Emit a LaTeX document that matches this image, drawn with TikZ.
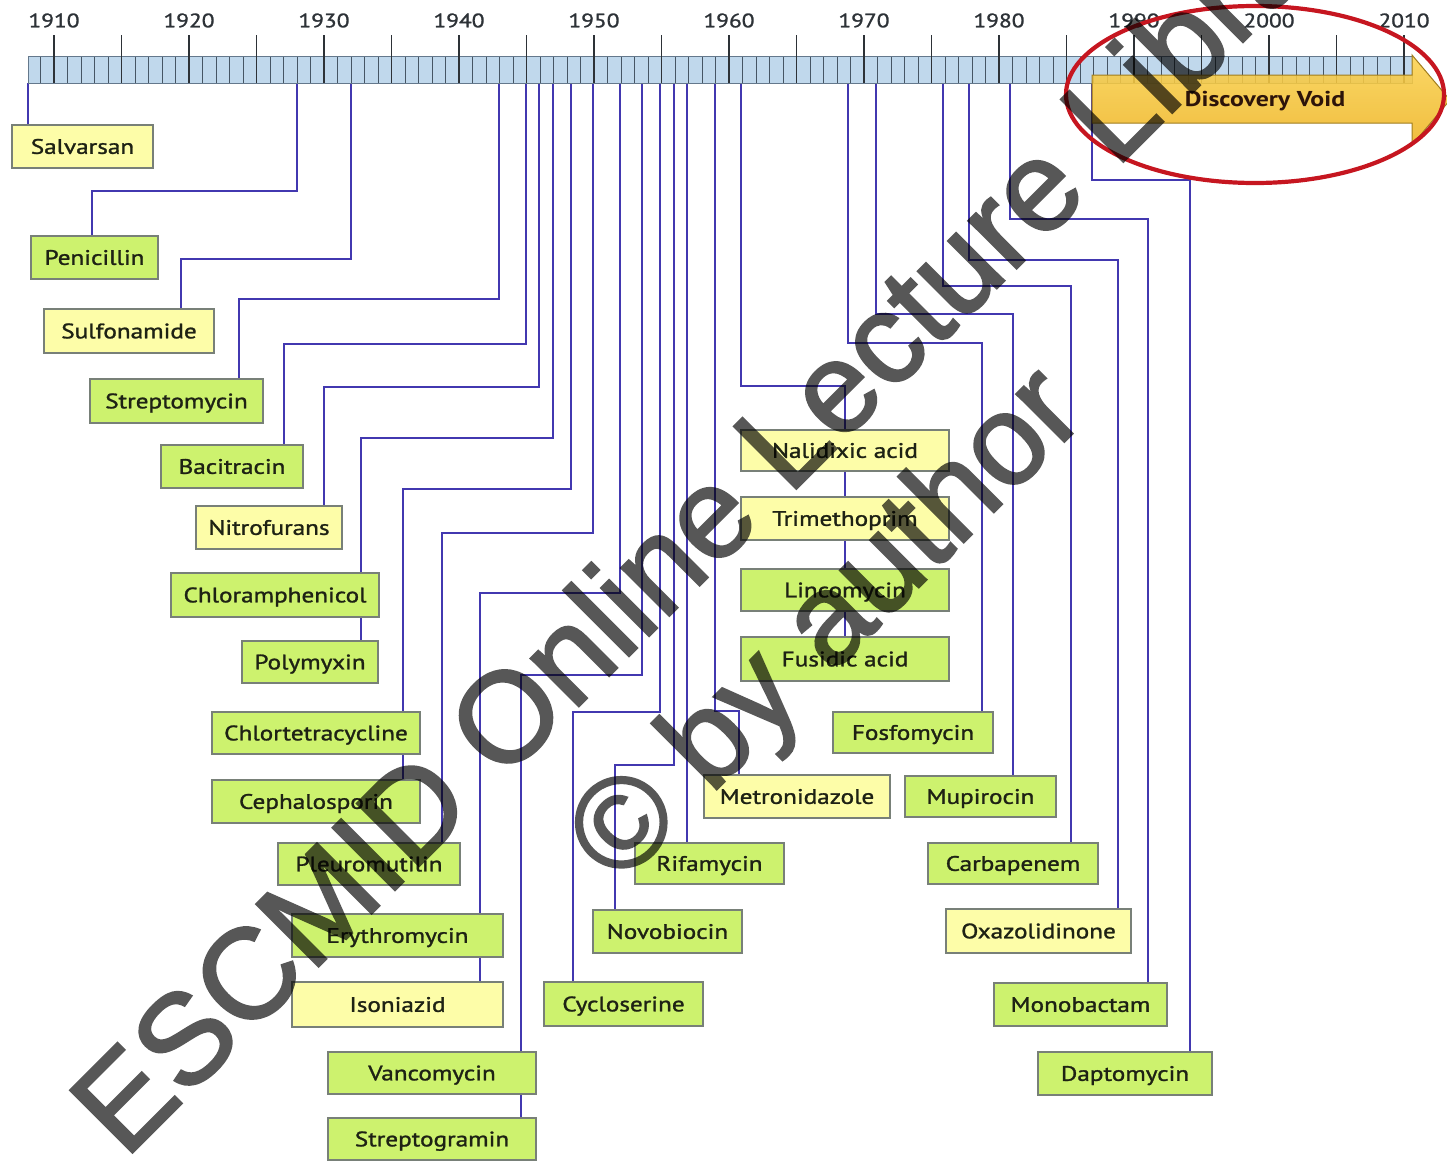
\documentclass[tikz,border=0pt]{standalone}
\usepackage{fontspec}
\setmainfont{PT Sans}
\newfontfamily\lblfont{PT Sans}[FakeBold=1.2]
\newfontfamily\wmfont{Liberation Sans}[FakeBold=1.8]
\usetikzlibrary{backgrounds}
\definecolor{boxgreen}{RGB}{205,242,110}
\definecolor{boxyellow}{RGB}{253,253,168}
\definecolor{boxedge}{RGB}{120,128,120}
\definecolor{conncol}{RGB}{66,56,176}
\definecolor{barfill}{RGB}{192,216,236}
\definecolor{baredge}{RGB}{100,120,140}
\definecolor{tickcol}{RGB}{45,50,55}
\definecolor{minorcol}{RGB}{70,85,100}
\definecolor{voidtop}{RGB}{250,210,80}
\definecolor{voidbot}{RGB}{238,180,36}
\definecolor{voidedge}{RGB}{160,125,30}
\definecolor{voidtxt}{RGB}{45,20,10}
\definecolor{ringred}{RGB}{198,22,32}
\definecolor{txt}{RGB}{30,34,20}
\newcommand{\sx}[1]{\scalebox{1.2}[1]{#1}}
\newcommand{\abx}[7]{\node[#1, minimum width={#4-#2}, minimum height={#5-#3}] (#6) at ({(#2+#4)/2},{(#3+#5)/2}) {\sx{#7}};}
\tikzset{
  abox/.style={draw=boxedge, line width=1.3pt, inner sep=0pt, text=txt,
    font=\lblfont\fontsize{21}{21}\selectfont, text height=14.7pt, text depth=0pt},
  gbox/.style={abox, fill=boxgreen},
  ybox/.style={abox, fill=boxyellow},
  conn/.style={draw=conncol, line width=2.3pt},
  yearlbl/.style={text=tickcol, inner sep=0pt, font=\lblfont\fontsize{19.5}{19.5}\selectfont},
  wmark/.style={text=black, rotate=45, anchor=base west, inner sep=0pt,
    font=\wmfont\fontsize{128}{128}\selectfont},
}
\begin{document}
\begin{tikzpicture}[x=1pt,y=-1pt]
\useasboundingbox (0,0) rectangle (1447,1162);

% timeline bar
\fill[barfill] (28,56) rectangle (1412,83);
\foreach \yr in {1909,...,2010}
  \draw[minorcol, line width=0.9pt] ({54+13.5*(\yr-1910)},56) -- ({54+13.5*(\yr-1910)},83);
\draw[baredge, line width=1pt] (28,56) rectangle (1412,83);
\foreach \yr in {1910,1915,...,2010}
  \draw[tickcol, line width=1.6pt] ({54+13.5*(\yr-1910)},35) -- ({54+13.5*(\yr-1910)},83);
\foreach \yr in {1910,1920,...,2010}
  \node[yearlbl] (yr\yr) at ({54+13.5*(\yr-1910)},20.5) {\sx{\yr}};

% tick points
\coordinate (tSal) at (28,83);
\coordinate (tPen) at (297,83);
\coordinate (tSul) at (351,83);
\coordinate (tStm) at (499,83);
\coordinate (tBac) at (526,83);
\coordinate (tNit) at (539,83);
\coordinate (tChl) at (553,83);
\coordinate (tCtc) at (571,83);
\coordinate (tPle) at (593,83);
\coordinate (tEry) at (620,83);
\coordinate (tVan) at (642,83);
\coordinate (tCyc) at (660,83);
\coordinate (tNov) at (674,83);
\coordinate (tRif) at (687,83);
\coordinate (tMet) at (715,83);
\coordinate (tNal) at (741,83);
\coordinate (tFos) at (848,83);
\coordinate (tMup) at (876,83);
\coordinate (tCar) at (943,83);
\coordinate (tOxa) at (969,83);
\coordinate (tMon) at (1010,83);
\coordinate (tDap) at (1092,83);

% boxes
\abx{ybox}{12}{125}{153}{168}{sal}{Salvarsan}
\abx{gbox}{31}{236}{158}{279}{pen}{Penicillin}
\abx{ybox}{44}{309}{214}{353}{sul}{Sulfonamide}
\abx{gbox}{90}{379}{263}{423}{stm}{Streptomycin}
\abx{gbox}{161}{445}{303}{488}{bac}{Bacitracin}
\abx{ybox}{196}{506}{342}{549}{nit}{Nitrofurans}
\abx{gbox}{171}{573}{379}{617}{chl}{Chloramphenicol}
\abx{gbox}{242}{641}{378}{683}{pol}{Polymyxin}
\abx{gbox}{212}{712}{420}{754}{ctc}{Chlortetracycline}
\abx{gbox}{212}{780}{420}{823}{cep}{Cephalosporin}
\abx{gbox}{278}{843}{460}{885}{ple}{Pleuromutilin}
\abx{gbox}{292}{914}{503}{957}{ery}{Erythromycin}
\abx{ybox}{292}{982}{503}{1027}{iso}{Isoniazid}
\abx{gbox}{328}{1052}{536}{1094}{van}{Vancomycin}
\abx{gbox}{328}{1118}{536}{1160}{stg}{Streptogramin}
\abx{gbox}{544}{982}{703}{1026}{cyc}{Cycloserine}
\abx{gbox}{593}{910}{742}{953}{nov}{Novobiocin}
\abx{gbox}{635}{843}{784}{884}{rif}{Rifamycin}
\abx{ybox}{704}{775}{890}{818}{met}{Metronidazole}
\abx{ybox}{741}{430}{949}{471}{nal}{Nalidixic acid}
\abx{ybox}{741}{497}{949}{540}{tmp}{Trimethoprim}
\abx{gbox}{741}{569}{949}{611}{lin}{Lincomycin}
\abx{gbox}{741}{637}{949}{681}{fus}{Fusidic acid}
\abx{gbox}{833}{712}{993}{753}{fos}{Fosfomycin}
\abx{gbox}{905}{776}{1056}{817}{mup}{Mupirocin}
\abx{gbox}{928}{843}{1098}{884}{car}{Carbapenem}
\abx{ybox}{946}{909}{1131}{953}{oxa}{Oxazolidinone}
\abx{gbox}{994}{983}{1167}{1026}{mon}{Monobactam}
\abx{gbox}{1038}{1052}{1212}{1095}{dap}{Daptomycin}

% connectors
\begin{scope}[on background layer]
\draw[conn] (tSal) -- (sal.north -| tSal);
\draw[conn] (tPen) |- (92,191) -- (92,0 |- pen.north);
\draw[conn] (tSul) |- (181,259) -- (181,0 |- sul.north);
\draw[conn] (tStm) |- (239,299) -- (239,0 |- stm.north);
\draw[conn] (tBac) |- (284,344) -- (284,0 |- bac.north);
\draw[conn] (tNit) |- (324,387) -- (324,0 |- nit.north);
\draw[conn] (tChl) |- (361,438) -- (361,0 |- pol.north);
\draw[conn] (tCtc) |- (403,489) -- (403,0 |- cep.north);
\draw[conn] (tPle) |- (442,533) -- (442,0 |- ple.north);
\draw[conn] (tEry) |- (480,593) -- (480,0 |- iso.north);
\draw[conn] (tVan) |- (521,675) -- (521,0 |- stg.north);
\draw[conn] (tCyc) |- (573,712) -- (573,0 |- cyc.north);
\draw[conn] (tNov) |- (615,765) -- (615,0 |- nov.north);
\draw[conn] (tRif) -- (rif.north -| tRif);
\draw[conn] (tMet) |- (739,711) -- (739,0 |- met.north);
\draw[conn] (tNal) |- (845,386) -- (845,0 |- fus.north);
\draw[conn] (tFos) |- (982,343) -- (982,0 |- fos.north);
\draw[conn] (tMup) |- (1013,314) -- (1013,0 |- mup.north);
\draw[conn] (tCar) |- (1071,286) -- (1071,0 |- car.north);
\draw[conn] (tOxa) |- (1118,260) -- (1118,0 |- oxa.north);
\draw[conn] (tMon) |- (1148,219) -- (1148,0 |- mon.north);
\draw[conn] (tDap) |- (1190,180) -- (1190,0 |- dap.north);
\end{scope}

% discovery void arrow
\path[draw=voidedge, line width=1pt, top color=voidtop, bottom color=voidbot, fill opacity=0.88]
  (1092,75) -- (1412,75) -- (1412,55) -- (1450,100) -- (1412,145) -- (1412,123) -- (1092,123) -- cycle;
\node[text=voidtxt, inner sep=0pt, font=\bfseries\fontsize{21.5}{21.5}\selectfont] (void) at (1265,101) {\sx{Discovery Void}};

% red ring
\draw[ringred, line width=4.2pt] (1255,94.5) ellipse [x radius=189, y radius=88.5];

% watermark
\begin{scope}[transparency group, opacity=0.66]
\node[wmark] (wm1) at (125,1160) {ESCMID Online Lecture Library};
\node[wmark] (wm2) at (619,887) {\textcopyright{} by author};
\end{scope}
\end{tikzpicture}
\end{document}
